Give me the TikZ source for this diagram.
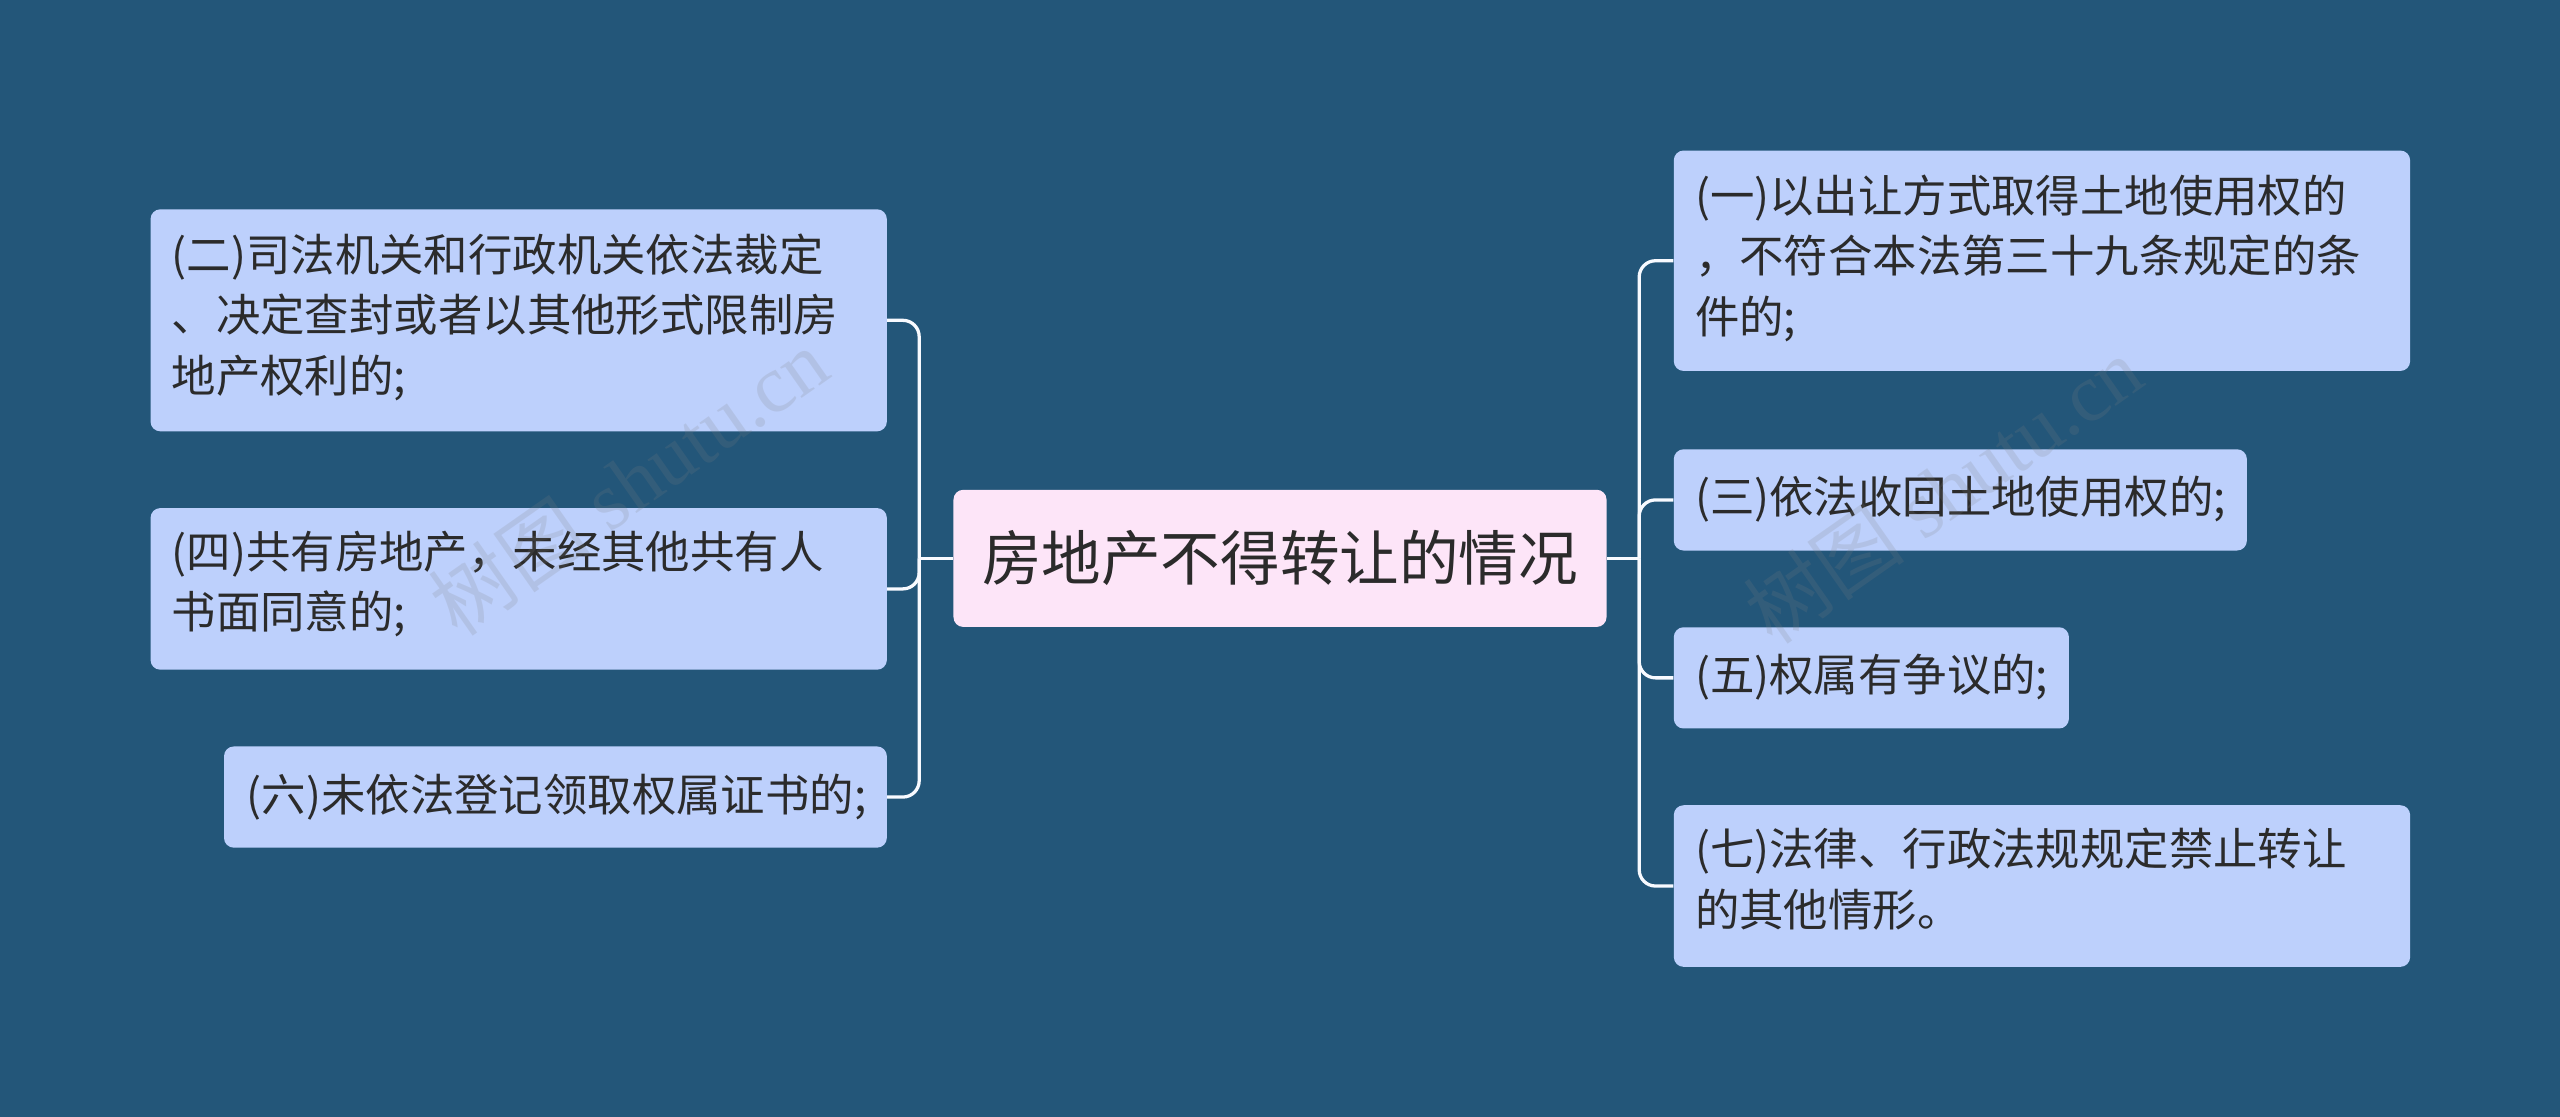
\documentclass[tikz,border=0pt]{standalone}
\usepackage{fontspec}
\setmainfont{Noto Sans CJK SC}
\setsansfont{Liberation Serif}
\newfontfamily\wmcjk{Noto Sans CJK SC}
\begin{document}
\begin{tikzpicture}[x=1pt,y=-1pt,
  leaf/.style={fill=leafc,rounded corners=6pt,anchor=north west,inner sep=0pt},
  lt/.style={align=left,font=\fontsize{27.2}{37}\selectfont,text=txt,inner sep=0pt},
  wm/.style={rotate=35,text=gray,opacity=0.18,font=\sffamily\fontsize{50}{50}\selectfont},
  conn/.style={draw=white!90!leafc,line width=2pt,rounded corners=10pt}]
\definecolor{bg}{HTML}{235679}
\definecolor{leafc}{HTML}{BDD0FC}
\definecolor{rootc}{HTML}{FDE5F8}
\definecolor{txt}{HTML}{2B2B2B}
\fill[bg] (0,0) rectangle (1568,684);
\useasboundingbox (0,0) rectangle (1568,684);
% root
\node[fill=rootc,rounded corners=6pt,minimum width=400pt,minimum height=84pt,font=\fontsize{36.5}{42}\selectfont,text=txt,inner sep=0pt] (root) at (784,342) {房地产不得转让的情况};
% left leaves
\node[leaf,minimum width=451pt,minimum height=136pt] (L1) at (92,128) {};
\node[lt,anchor=north west] (L1t) at (105,143) {(二)司法机关和行政机关依法裁定\\、决定查封或者以其他形式限制房\\地产权利的;};
\node[leaf,minimum width=451pt,minimum height=99pt] (L2) at (92,311) {};
\node[lt,anchor=north west] (L2t) at (105,325) {(四)共有房地产，未经其他共有人\\书面同意的;};
\node[leaf,minimum width=406pt,minimum height=62pt] (L3) at (137,457) {};
\node[lt,anchor=west] (L3t) at (151,488) {(六)未依法登记领取权属证书的;};
% right leaves
\node[leaf,minimum width=451pt,minimum height=135pt] (R1) at (1025,92) {};
\node[lt,anchor=north west] (R1t) at (1038,107) {(一)以出让方式取得土地使用权的\\，不符合本法第三十九条规定的条\\件的;};
\node[leaf,minimum width=351pt,minimum height=62pt] (R2) at (1025,275) {};
\node[lt,anchor=west] (R2t) at (1038,306) {(三)依法收回土地使用权的;};
\node[leaf,minimum width=242pt,minimum height=62pt] (R3) at (1025,384) {};
\node[lt,anchor=west] (R3t) at (1038,415) {(五)权属有争议的;};
\node[leaf,minimum width=451pt,minimum height=99pt] (R4) at (1025,493) {};
\node[lt,anchor=north west] (R4t) at (1038,507) {(七)法律、行政法规规定禁止转让\\的其他情形。};
% connectors
\coordinate (lj) at (563,342);
\coordinate (rj) at (1004,342);
\draw[conn] (root.west) -- (lj);
\draw[conn] (root.east) -- (rj);
\draw[conn] (lj) |- (L1.east);
\draw[conn] (lj) |- (L2.east);
\draw[conn] (lj) |- (L3.east);
\draw[conn] (rj) |- (R1.west);
\draw[conn] (rj) |- (R2.west);
\draw[conn] (rj) |- (R3.west);
\draw[conn] (rj) |- (R4.west);
% watermark
\node[wm] (w1) at (385,295) {{\wmcjk 树图} shutu.cn};
\node[wm] (w2) at (1190,300) {{\wmcjk 树图} shutu.cn};
\end{tikzpicture}
\end{document}
